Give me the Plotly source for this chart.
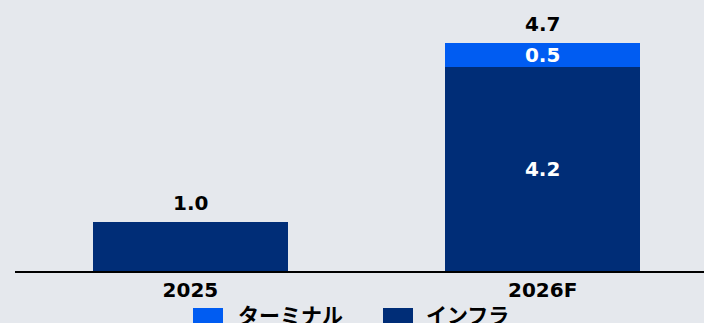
import plotly.graph_objects as go

# ---- data ---------------------------------------------------------------
categories = ["2025", "2026F"]
infra = [1.0, 4.2]          # インフラ
terminal = [None, 0.5]      # ターミナル
name_infra = "インフラ"
name_terminal = "ターミナル"

# ---- style --------------------------------------------------------------
COL_TERMINAL = "#005CF2"
COL_INFRA = "#002D77"
BG = "#E5E8ED"
FONT = "DejaVu Sans, Noto Sans CJK JP, sans-serif"
W, H = 704, 323
M_L, M_R, M_T, M_B = 15, 0, 0, 52
PX_PER_UNIT = 48.6
plot_w = W - M_L - M_R
plot_h = H - M_T - M_B


def xp(px):
    """pixel x -> paper x"""
    return (px - M_L) / plot_w


def yp(py):
    """pixel y -> paper y"""
    return (H - M_B - py) / plot_h


totals = [(a or 0) + (b or 0) for a, b in zip(infra, terminal)]
multi = [sum(v is not None for v in seg) > 1 for seg in zip(infra, terminal)]

fig = go.Figure()
fig.add_bar(
    x=categories, y=infra, name=name_infra, width=0.555,
    marker=dict(color=COL_INFRA, line=dict(width=0)),
    text=[f"{v:.1f}" if m else "" for v, m in zip(infra, multi)],
    textposition="inside", insidetextanchor="middle", constraintext="none",
    textfont=dict(family=FONT, size=20, color="white", weight="bold"),
)
fig.add_bar(
    x=categories, y=terminal, name=name_terminal, width=0.555,
    marker=dict(color=COL_TERMINAL, line=dict(width=0)),
    text=[f"{v:.1f}" if v is not None else "" for v in terminal],
    textposition="inside", insidetextanchor="middle", constraintext="none",
    textfont=dict(family=FONT, size=20, color="white", weight="bold"),
)

annotations = []
for i, t in enumerate(totals):
    # category axis: position by category index
    annotations.append(dict(
        x=i, y=t, xref="x", yref="y", text=f"{t:.1f}", showarrow=False,
        yanchor="middle", yshift=19,
        font=dict(family=FONT, size=20, color="black", weight="bold"),
    ))

# legend drawn as swatches + labels below the axis
shapes = []
legend_items = [(name_terminal, COL_TERMINAL, 193, 236),
                (name_infra, COL_INFRA, 383, 424)]
for name, col, sx, tx in legend_items:
    shapes.append(dict(type="rect", xref="paper", yref="paper",
                       x0=xp(sx), x1=xp(sx + 30), y0=yp(308), y1=yp(334),
                       fillcolor=col, line=dict(width=0)))
    annotations.append(dict(
        x=xp(tx), y=yp(316), xref="paper", yref="paper", text=name,
        showarrow=False, xanchor="left", yanchor="middle",
        font=dict(family=FONT, size=21, color="black", weight="bold"),
    ))

fig.update_layout(
    width=W, height=H, barmode="stack", showlegend=False,
    margin=dict(l=M_L, r=M_R, t=M_T, b=M_B, pad=0),
    paper_bgcolor=BG, plot_bgcolor=BG,
    annotations=annotations, shapes=shapes,
    xaxis=dict(type="category", range=[-0.498, 1.458], showgrid=False,
               showline=True, linecolor="black", linewidth=2, ticks="",
               tickfont=dict(family=FONT, size=20, color="black", weight="bold"),
               zeroline=False, fixedrange=True),
    yaxis=dict(visible=False, range=[0, plot_h / PX_PER_UNIT],
               showgrid=False, zeroline=False, fixedrange=True),
)

fig.write_html("out.html", config={"displayModeBar": False})
